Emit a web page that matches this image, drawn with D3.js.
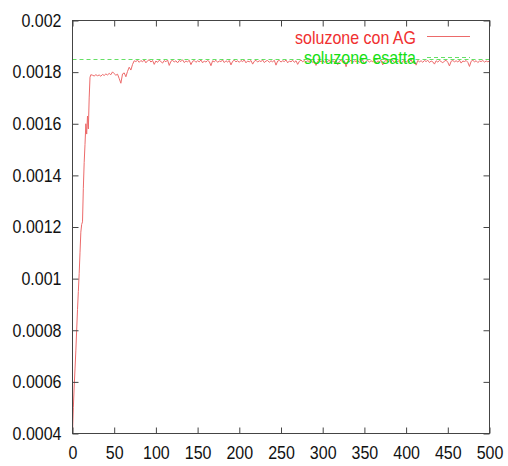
<!DOCTYPE html>
<html><head><meta charset="utf-8">
<script src="https://cdn.jsdelivr.net/npm/d3@7"></script>
<style>
html,body{margin:0;padding:0;background:#fff;}
svg{display:block;}
text{font-family:"Liberation Sans",Arial,Helvetica,sans-serif;}
</style></head>
<body>
<svg id="chart" width="508" height="466"></svg>
<script>
// ---- data ----
const seriesNames = ["soluzone con AG", "soluzone esatta"];
const generations = d3.range(0, 23).concat(d3.range(24, 501, 2));
const agValues = [
  0.00040,0.00050,0.00058,0.00065,0.00072,0.00080,0.00088,0.00095,0.00102,0.00110,
  0.00118,0.00121,0.00122,0.00135,0.00145,0.00152,0.00160,0.00156,0.00163,0.00158,
  0.00170,0.00178,0.00179,
  0.001788,0.001785,0.001790,0.001786,0.001789,0.001784,0.001791,0.001787,0.001793,0.001789,
  0.001795,0.001790,0.001801,0.001794,0.001788,0.001792,0.001775,0.001757,0.001793,0.001797,
  0.001782,0.001803,0.001819,0.001808,0.001830,0.001844,0.001841,0.001846,0.001838,0.001845,
  0.001840,0.001847,0.001836,0.001844,0.001848,0.001839,0.001845,0.001830,
  0.001843,0.001838,0.001846,0.001841,0.001835,0.001845,0.001840,0.001847,0.001826,0.001842,
  0.001846,0.001839,0.001844,0.001836,0.001845,0.001841,0.001848,0.001837,0.001843,0.001840,
  0.001846,0.001829,0.001842,0.001845,0.001838,0.001844,0.001840,0.001847,0.001836,0.001843,
  0.001839,0.001845,0.001841,0.001825,0.001844,0.001840,0.001846,0.001838,0.001843,0.001841,
  0.001847,0.001837,0.001844,0.001839,0.001845,0.001828,0.001842,0.001846,0.001840,0.001844,
  0.001838,0.001845,0.001841,0.001847,0.001836,0.001843,0.001840,0.001845,0.001831,0.001842,
  0.001846,0.001839,0.001844,0.001841,0.001847,0.001837,0.001843,0.001845,0.001838,0.001844,
  0.001840,0.001846,0.001827,0.001843,0.001845,0.001839,0.001844,0.001841,0.001847,0.001836,
  0.001843,0.001840,0.001846,0.001838,0.001844,0.001830,0.001842,0.001847,0.001840,0.001845,
  0.001839,0.001844,0.001841,0.001846,0.001837,0.001843,0.001826,0.001842,0.001845,0.001840,
  0.001846,0.001838,0.001843,0.001841,0.001847,0.001836,0.001844,0.001840,0.001845,0.001829,
  0.001842,0.001846,0.001839,0.001844,0.001821,0.001843,0.001840,0.001847,0.001837,0.001844,
  0.001841,0.001845,0.001838,0.001843,0.001846,0.001832,0.001842,0.001845,0.001839,0.001844,
  0.001840,0.001847,0.001836,0.001843,0.001841,0.001846,0.001828,0.001842,0.001845,0.001839,
  0.001844,0.001840,0.001846,0.001837,0.001843,0.001841,0.001845,0.001833,0.001842,0.001846,
  0.001839,0.001844,0.001841,0.001847,0.001836,0.001843,0.001827,0.001845,0.001840,0.001844,
  0.001838,0.001845,0.001841,0.001846,0.001837,0.001843,0.001840,0.001831,0.001844,0.001839,
  0.001845,0.001841,0.001836,0.001843,0.001846,0.001838,0.001824,0.001842,0.001845,0.001840,
  0.001844,0.001839,0.001846,0.001835,0.001843,0.001841,0.001845,0.001838,0.001822,0.001842,
  0.001846,0.001840,0.001844,0.001837,0.001843,0.001841,0.001845,0.001839,0.001843,0.001840,
  0.001843
];
const exactValue = 0.00185;
const xTicks = [0, 50, 100, 150, 200, 250, 300, 350, 400, 450, 500];
const yTicks = [0.0004, 0.0006, 0.0008, 0.001, 0.0012, 0.0014, 0.0016, 0.0018, 0.002];
const yTickLabels = ["0.0004","0.0006","0.0008","0.001","0.0012","0.0014","0.0016","0.0018","0.002"];

// ---- chart ----
const svg = d3.select("#chart");
const L = 72.5, R = 489.5, T = 20.5, B = 433.5;
const x = d3.scaleLinear().domain([0, 500]).range([L, R]);
const y = d3.scaleLinear().domain([0.0004, 0.002]).range([B, T]);
const axisColor = "#444";
const tickLen = 6;
const fontSize = 18, squeeze = 0.89;
const greenLine = "#00cc00";

const data = generations.map((g, i) => ({g, v: agValues[i]}));

svg.append("defs").append("clipPath").attr("id", "clip")
  .append("rect").attr("x", L).attr("y", T).attr("width", R - L).attr("height", B - T);

// AG line
svg.append("path").datum(data)
  .attr("clip-path", "url(#clip)")
  .attr("fill", "none").attr("stroke", "#ec6a6a").attr("stroke-width", 1)
  .attr("d", d3.line().x(d => x(d.g)).y(d => y(d.v)));

// exact solution dashed line (drawn after, as gnuplot does)
const yExact = Math.round(y(exactValue)) + 0.5;
svg.append("line")
  .attr("x1", x(0)).attr("x2", x(500))
  .attr("y1", yExact).attr("y2", yExact)
  .attr("stroke", greenLine).attr("stroke-opacity", 0.6).attr("stroke-width", 1)
  .attr("stroke-dasharray", "4,3");

// axes: bottom, top, left, right (ticks inward)
const gB = svg.append("g").attr("transform", `translate(0,${B})`)
  .call(d3.axisBottom(x).tickValues(xTicks).tickSize(-tickLen).tickPadding(13).tickFormat(d3.format("d")));
const gT = svg.append("g").attr("transform", `translate(0,${T})`)
  .call(d3.axisTop(x).tickValues(xTicks).tickSize(-tickLen).tickFormat(""));
const gL = svg.append("g").attr("transform", `translate(${L},0)`)
  .call(d3.axisLeft(y).tickValues(yTicks).tickSize(-tickLen).tickPadding(11)
    .tickFormat((d, i) => yTickLabels[i]));
const gR = svg.append("g").attr("transform", `translate(${R},0)`)
  .call(d3.axisRight(y).tickValues(yTicks).tickSize(-tickLen).tickFormat(""));

[gB, gT, gL, gR].forEach(g => {
  g.select(".domain").remove();
  g.selectAll(".tick line").attr("stroke", axisColor);
  g.selectAll("text").attr("font-size", fontSize).attr("fill", "#111")
    .attr("font-family", '"Liberation Sans", Arial, sans-serif')
    .each(function() {
      const t = d3.select(this);
      const x0 = +t.attr("x") || 0;
      t.attr("x", x0 / squeeze).attr("transform", `scale(${squeeze},1)`);
    });
});
gB.selectAll("text").attr("dy", "0.71em");

// border box
svg.append("rect").attr("x", L).attr("y", T).attr("width", R - L).attr("height", B - T)
  .attr("fill", "none").attr("stroke", axisColor).attr("stroke-width", 1);

// legend
const legend = [
  {name: seriesNames[0], textColor: "#f03030", lineColor: "#ec6a6a", op: 1, dash: null, ty: 44, ly: 36.5},
  {name: seriesNames[1], textColor: "#14e014", lineColor: greenLine, op: 0.6, dash: "4,3", ty: 64.5, ly: 57.5}
];
legend.forEach(l => {
  svg.append("text").attr("x", 416 / squeeze).attr("y", l.ty).attr("text-anchor", "end")
    .attr("transform", `scale(${squeeze},1)`)
    .attr("font-size", fontSize).attr("fill", l.textColor).text(l.name);
  svg.append("line").attr("x1", 427).attr("x2", 470).attr("y1", l.ly).attr("y2", l.ly)
    .attr("stroke", l.lineColor).attr("stroke-opacity", l.op).attr("stroke-width", 1)
    .attr("stroke-dasharray", l.dash);
});
</script>
</body></html>
